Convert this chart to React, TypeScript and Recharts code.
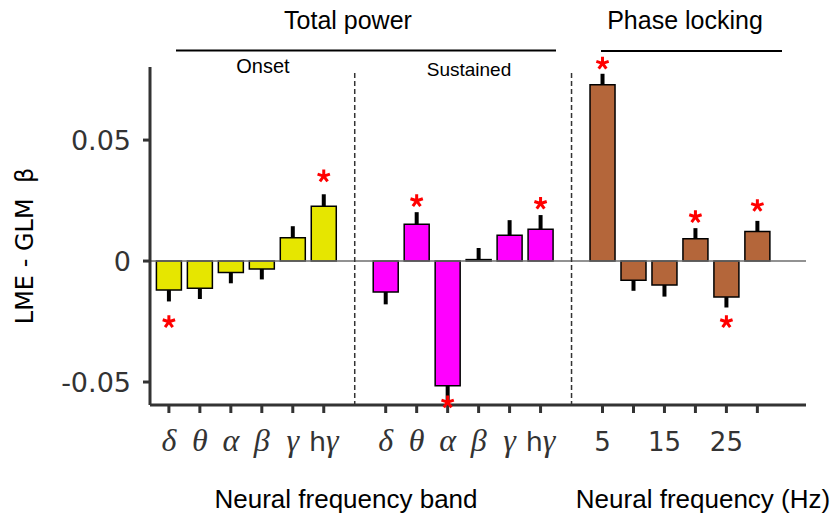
import React from 'react';
import { ComposedChart, Bar, Cell, ErrorBar, XAxis, YAxis, ReferenceLine, ReferenceDot } from 'recharts';

// band / frequency labels
const bandLabels = ['δ', 'θ', 'α', 'β', 'γ', 'hγ'];
const freqLabels = ['5', '', '15', '', '25', ''];

// LME - GLM beta
const onsetValues = [-0.012, -0.0112, -0.0047, -0.0033, 0.0096, 0.0226];
const onsetErrors = [0.0047, 0.0045, 0.0045, 0.0043, 0.0048, 0.005];
const onsetStars = [-0.0251, null, null, null, null, 0.0351];

const sustainedValues = [-0.0128, 0.0152, -0.0515, 0.0006, 0.0107, 0.0131];
const sustainedErrors = [0.0051, 0.005, 0.0078, 0.0048, 0.0062, 0.0059];
const sustainedStars = [null, 0.0249, -0.0583, null, null, 0.0238];

const phaseValues = [0.0729, -0.0079, -0.0099, 0.0092, -0.0149, 0.0122];
const phaseErrors = [0.0045, 0.0044, 0.0048, 0.0044, 0.0043, 0.0044];
const phaseStars = [0.0817, null, null, 0.0183, -0.0251, 0.0229];

const yTicks = [-0.05, 0, 0.05];

const groups = [
  { start: 0, labels: bandLabels, values: onsetValues, errors: onsetErrors, stars: onsetStars, color: '#e6e600' },
  { start: 7, labels: bandLabels, values: sustainedValues, errors: sustainedErrors, stars: sustainedStars, color: '#ff00ff' },
  { start: 14, labels: freqLabels, values: phaseValues, errors: phaseErrors, stars: phaseStars, color: '#b4663a' },
];

const rows = groups.flatMap((g) =>
  g.values.map((v, i) => ({
    pos: g.start + i,
    value: v,
    err: v < 0 ? [g.errors[i], 0] : [0, g.errors[i]],
    star: g.stars[i],
    label: g.labels[i],
    color: g.color,
  }))
);

const tickLabel: Record<number, string> = {};
rows.forEach((r) => (tickLabel[r.pos] = r.label));

const sans = 'DejaVu Sans, sans-serif';
const arial = 'Liberation Sans, Arial, sans-serif';

const XTick = ({ x, y, payload }: any) => {
  const lab = tickLabel[payload.value];
  if (!lab) return null;
  if (/^\d/.test(lab)) {
    return (
      <text x={x} y={y + 36} textAnchor="middle" fontFamily={sans} fontSize={26} fill="#333">
        {lab}
      </text>
    );
  }
  return (
    <text x={x} y={y + 36} textAnchor="middle" fontSize={32} fill="#333">
      {lab.length > 1 && (
        <tspan fontFamily={sans} fontSize={27} fontStyle="normal">
          h
        </tspan>
      )}
      <tspan fontFamily="Liberation Serif, DejaVu Serif, serif" fontStyle="italic">
        {lab.slice(-1)}
      </tspan>
    </text>
  );
};

// five-armed red asterisk marking significance
const Star = ({ cx, cy }: any) => {
  const arms = [-90, -18, 54, 126, 198].map((a) => {
    const r = (a * Math.PI) / 180;
    return `M${cx},${cy}L${cx + 6.5 * Math.cos(r)},${cy + 6.5 * Math.sin(r)}`;
  });
  return <path d={arms.join('')} stroke="#ff0000" strokeWidth={3} fill="none" />;
};

const App = () => {
  return (
    <div style={{ position: 'absolute', left: 0, top: 0, width: 837, height: 514, background: '#fff' }}>
      <ComposedChart width={837} height={514} data={rows} margin={{ top: 67, right: 31, bottom: 49, left: 50 }}>
        <XAxis
          type="number"
          dataKey="pos"
          domain={[-0.61, 20.57]}
          ticks={rows.map((r) => r.pos)}
          interval={0}
          height={60}
          tick={<XTick />}
          tickSize={8}
          tickLine={{ stroke: '#333', strokeWidth: 3 }}
          axisLine={{ stroke: '#333', strokeWidth: 3 }}
        />
        <YAxis
          type="number"
          domain={[-0.0595, 0.0802]}
          ticks={yTicks}
          width={100}
          tickFormatter={(v: number) => (v === 0 ? '0' : v.toFixed(2))}
          tick={{ fontFamily: sans, fontSize: 27, fill: '#333' }}
          tickSize={7}
          tickMargin={12}
          tickLine={{ stroke: '#333', strokeWidth: 3 }}
          axisLine={{ stroke: '#333', strokeWidth: 3 }}
        />
        <ReferenceLine y={0} stroke="#6e6e6e" strokeWidth={1.5} />
        <ReferenceLine
          segment={[{ x: 6, y: 0.0777 }, { x: 6, y: -0.0595 }]}
          stroke="#333"
          strokeWidth={1.5}
          strokeDasharray="5 3"
        />
        <ReferenceLine
          segment={[{ x: 13, y: 0.0777 }, { x: 13, y: -0.0595 }]}
          stroke="#333"
          strokeWidth={1.5}
          strokeDasharray="5 3"
        />
        <Bar dataKey="value" barSize={25} stroke="#000" strokeWidth={1.5} isAnimationActive={false}>
          {rows.map((r) => (
            <Cell key={r.pos} fill={r.color} />
          ))}
          <ErrorBar dataKey="err" width={0} stroke="#000" strokeWidth={4} direction="y" isAnimationActive={false} />
        </Bar>
        {rows
          .filter((r) => r.star !== null)
          .map((r) => (
            <ReferenceDot key={'s' + r.pos} x={r.pos} y={r.star as number} ifOverflow="visible" shape={<Star />} />
          ))}
      </ComposedChart>
      <svg width={837} height={514} style={{ position: 'absolute', left: 0, top: 0, pointerEvents: 'none' }}>
        <text x={348} y={29} textAnchor="middle" fontFamily={arial} fontSize={25} fill="#000">
          Total power
        </text>
        <line x1={176} y1={50.5} x2={556} y2={50.5} stroke="#000" strokeWidth={2} />
        <text x={685} y={29} textAnchor="middle" fontFamily={arial} fontSize={25} fill="#000">
          Phase locking
        </text>
        <line x1={601} y1={51} x2={782} y2={51} stroke="#000" strokeWidth={2} />
        <text x={263} y={73} textAnchor="middle" fontFamily={arial} fontSize={20} fill="#000">
          Onset
        </text>
        <text x={469} y={76} textAnchor="middle" fontFamily={arial} fontSize={19} fill="#000">
          Sustained
        </text>
        <text
          x={25}
          y={246}
          transform="rotate(-90 25 246)"
          textAnchor="middle"
          dominantBaseline="central"
          fontFamily={sans}
          fontSize={24}
          fill="#000"
        >
          {'LME - GLM\u00a0\u00a0β'}
        </text>
        <text x={346} y={508} textAnchor="middle" fontFamily={arial} fontSize={26} fill="#000">
          Neural frequency band
        </text>
        <text x={703} y={508} textAnchor="middle" fontFamily={arial} fontSize={26} fill="#000">
          Neural frequency (Hz)
        </text>
      </svg>
    </div>
  );
};

export default App;
